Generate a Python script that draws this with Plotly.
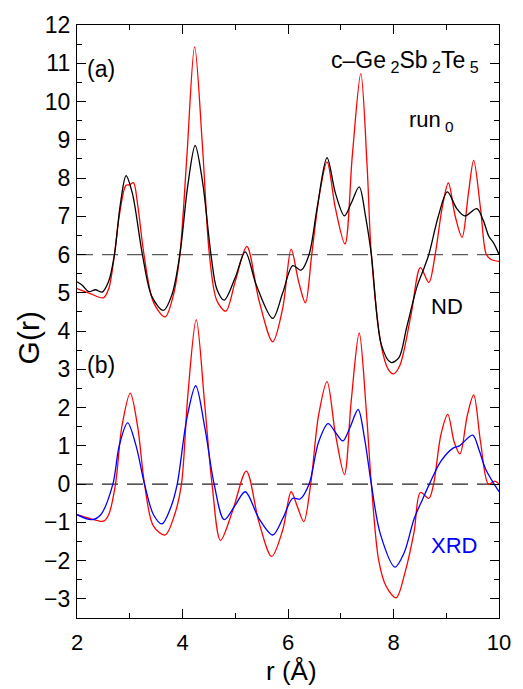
import plotly.graph_objects as go

# ---- data ----
# (a) ND : red = model, black = experiment (offset +6)
nd_red_x = [2.0, 2.25, 2.5, 2.6, 2.71, 2.8, 2.93, 3.0, 3.07, 3.15, 3.27, 3.45, 3.67, 3.82, 3.95,
            4.08, 4.23, 4.38, 4.51, 4.65, 4.82, 5.0, 5.22, 5.45, 5.71, 5.9, 6.06, 6.2, 6.33, 6.45,
            6.6, 6.74, 6.9, 7.08, 7.22, 7.38, 7.5, 7.58, 7.77, 7.9, 8.0, 8.12, 8.33, 8.51, 8.67,
            8.79, 8.92, 9.04, 9.17, 9.3, 9.42, 9.52, 9.65, 9.76, 9.85, 10.0]
nd_red_y = [5.11, 4.98, 4.87, 5.1, 6.0, 7.0, 7.81, 7.82, 7.88, 7.3, 6.0, 4.75, 4.37, 4.9, 6.0,
            8.5, 11.43, 8.8, 6.0, 4.8, 4.52, 5.3, 6.21, 4.8, 3.72, 4.6, 6.14, 5.3, 4.74, 6.0,
            7.6, 8.42, 7.2, 6.28, 8.6, 10.73, 8.3, 6.0, 3.6, 3.0, 2.88, 3.1, 4.41, 5.66, 5.27,
            6.0, 7.2, 7.87, 7.0, 6.45, 7.6, 8.46, 7.2, 6.0, 5.87, 5.82]

nd_blk_x = [2.0, 2.1, 2.22, 2.35, 2.48, 2.6, 2.71, 2.82, 2.93, 3.05, 3.24, 3.42, 3.64, 3.8, 3.95,
            4.1, 4.24, 4.38, 4.54, 4.65, 4.79, 5.0, 5.19, 5.4, 5.71, 5.9, 6.09, 6.25, 6.4, 6.55,
            6.74, 6.9, 7.07, 7.2, 7.35, 7.47, 7.58, 7.77, 7.95, 8.1, 8.25, 8.45, 8.58, 8.67, 8.85,
            9.02, 9.2, 9.35, 9.58, 9.7, 9.81, 9.9, 10.0]
nd_blk_y = [5.29, 5.2, 5.03, 5.08, 5.02, 5.3, 6.0, 7.3, 8.06, 7.6, 6.0, 4.9, 4.54, 4.95, 6.0,
            7.8, 8.85, 7.9, 6.0, 5.1, 4.81, 5.4, 6.07, 5.2, 4.33, 5.0, 5.71, 5.59, 6.0, 7.2,
            8.53, 7.6, 7.01, 7.35, 7.77, 7.0, 6.0, 3.64, 3.18, 3.3, 4.1, 5.18, 5.65, 6.0, 7.0,
            7.64, 7.2, 7.01, 7.20, 6.9, 6.47, 6.3, 6.0]

# (b) XRD : red = model, blue = experiment
xrd_red_x = [2.0, 2.25, 2.5, 2.6, 2.73, 2.85, 3.01, 3.15, 3.28, 3.45, 3.67, 3.85, 3.98, 4.1, 4.26,
             4.42, 4.56, 4.72, 4.95, 5.21, 5.45, 5.69, 5.9, 6.06, 6.18, 6.30, 6.43, 6.58, 6.74,
             6.9, 7.07, 7.2, 7.35, 7.48, 7.58, 7.72, 7.86, 8.05, 8.22, 8.39, 8.51, 8.67, 8.76,
             8.9, 9.03, 9.15, 9.26, 9.4, 9.52, 9.65, 9.8, 9.92, 10.0]
xrd_red_y = [-0.80, -0.9, -0.97, -0.8, 0.0, 1.5, 2.38, 1.5, 0.0, -1.1, -1.33, -0.8, 0.0, 2.3, 4.30,
             2.1, 0.0, -1.47, -0.7, 0.34, -1.0, -1.89, -1.2, -0.2, -0.6, -0.98, 0.0, 1.8, 2.68,
             1.3, 0.25, 2.2, 3.95, 2.0, 0.0, -2.0, -2.67, -2.97, -2.3, -1.25, -0.22, -0.37, 0.0,
             1.3, 1.82, 1.1, 0.79, 1.8, 2.33, 1.1, 0.0, 0.08, 0.0]

xrd_blu_x = [2.0, 2.28, 2.45, 2.68, 2.8, 2.96, 3.12, 3.28, 3.45, 3.61, 3.78, 3.90, 4.08, 4.25,
             4.42, 4.60, 4.79, 5.0, 5.19, 5.45, 5.71, 5.9, 6.09, 6.23, 6.40, 6.58, 6.76, 6.9,
             7.04, 7.18, 7.33, 7.45, 7.58, 7.75, 8.03, 8.2, 8.39, 8.55, 8.68, 8.9, 9.13, 9.25,
             9.5, 9.62, 9.75, 10.0]
xrd_blu_y = [-0.80, -0.93, -0.8, 0.0, 1.0, 1.60, 1.0, 0.0, -0.8, -1.04, -0.6, 0.0, 1.7, 2.57,
             1.5, 0.0, -0.93, -0.55, -0.2, -0.9, -1.33, -0.9, -0.37, -0.39, 0.0, 1.1, 1.58, 1.35,
             1.13, 1.5, 1.95, 1.2, 0.0, -1.3, -2.17, -1.8, -0.91, -0.4, 0.0, 0.6, 0.94, 1.0,
             1.28, 0.9, 0.38, -0.2]

baselines = [6, 0]
baseline_colors = ["#5a5a5a", "#222222"]

FONT = "Liberation Sans, Arial, Helvetica, sans-serif"

fig = go.Figure()

for yb, c in zip(baselines, baseline_colors):
    fig.add_shape(type="line", xref="x", yref="y", x0=2, x1=10, y0=yb, y1=yb,
                  line=dict(color=c, width=1.3, dash="16px,9px"), layer="below")

def add(x, y, color):
    fig.add_trace(go.Scatter(x=x, y=y, mode="lines",
                             line=dict(color=color, width=1.3, shape="spline", smoothing=0.9),
                             showlegend=False, hoverinfo="skip"))

add(nd_red_x, nd_red_y, "#ff0000")
add(nd_blk_x, nd_blk_y, "#000000")
add(xrd_red_x, xrd_red_y, "#ff0000")
add(xrd_blu_x, xrd_blu_y, "#0000ff")

axis_common = dict(showline=True, linecolor="black", linewidth=1.3, mirror="ticks",
                   ticks="inside", ticklen=9, tickwidth=1.3, tickcolor="black",
                   showgrid=False, zeroline=False)

fig.update_xaxes(range=[2, 10], dtick=2, tick0=2,
                 minor=dict(dtick=1, ticklen=5, tickwidth=1.3, tickcolor="black", ticks="inside"),
                 tickfont=dict(family=FONT, size=22, color="black"), ticklabelstandoff=4,
                 **axis_common)
fig.update_yaxes(range=[-3.5, 12], dtick=1, tick0=0,
                 minor=dict(dtick=0.5, ticklen=5, tickwidth=1.3, tickcolor="black", ticks="inside"),
                 tickfont=dict(family=FONT, size=23, color="black"), ticklabelstandoff=1,
                 **axis_common)

ann = [
    dict(x=2.45, y=10.84, text="(a)", size=23, color="black", xanchor="center"),
    dict(x=2.45, y=3.12, text="(b)", size=23, color="black", xanchor="center"),
    dict(x=9.65, y=11.05, text="c\u2013Ge<sub> 2</sub>Sb<sub> 2</sub>Te<sub> 5</sub>", size=23,
         color="black", xanchor="right"),
    dict(x=8.72, y=9.5, text="run<sub> 0</sub>", size=22, color="black", xanchor="center"),
    dict(x=9.02, y=4.64, text="ND", size=22, color="black", xanchor="center"),
    dict(x=9.15, y=-1.61, text="XRD", size=22, color="#0000ff", xanchor="center"),
]
for a in ann:
    fig.add_annotation(x=a["x"], y=a["y"], xref="x", yref="y", text=a["text"], showarrow=False,
                       xanchor=a["xanchor"], yanchor="middle",
                       font=dict(family=FONT, size=a["size"], color=a["color"]))

fig.add_annotation(x=-0.114, y=0.473, xref="paper", yref="paper", text="G(r)", textangle=-90,
                   showarrow=False, font=dict(family=FONT, size=30, color="black"),
                   xanchor="center", yanchor="middle")
fig.add_annotation(x=0.509, y=-0.09, xref="paper", yref="paper", text="r (Å)",
                   showarrow=False, font=dict(family=FONT, size=26, color="black"),
                   xanchor="center", yanchor="middle")

fig.update_layout(width=523, height=689, margin=dict(l=77, r=16, t=15, b=71),
                  plot_bgcolor="white", paper_bgcolor="white")

fig.write_html("out.html")
